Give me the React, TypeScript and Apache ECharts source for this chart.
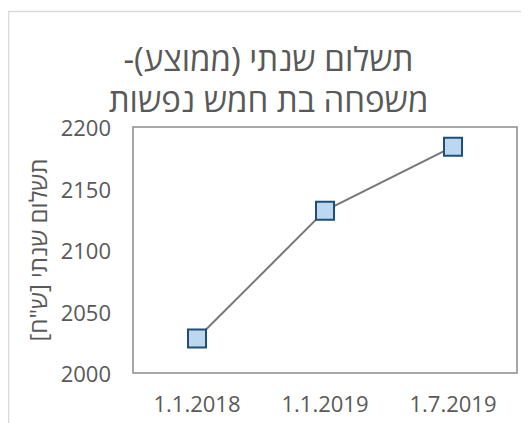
import React, { useEffect, useRef } from "react";
import * as echarts from "echarts";

const categories = ["1.1.2018", "1.1.2019", "1.7.2019"];
const payments = [2028, 2132, 2184];
const titleLines = ["תשלום שנתי (ממוצע)-\u200F", "משפחה בת חמש נפשות\u200F"];
const yAxisName = "תשלום שנתי [ש\"ח]\u200F";
const yMin = 2000;
const yMax = 2200;
const yInterval = 50;

export default function App() {
  const ref = useRef<HTMLDivElement>(null);
  useEffect(() => {
    if (!ref.current) return;
    const chart = echarts.init(ref.current, undefined, { renderer: "svg" });
    chart.setOption({
      animation: false,
      backgroundColor: "#ffffff",
      graphic: [
        {
          type: "rect",
          shape: { x: 0.5, y: 3.5, width: 700, height: 600 },
          style: { fill: "none", stroke: "#D9D9D9", lineWidth: 1.5 },
          silent: true,
        },
      ],
      title: {
        text: titleLines.join("\n"),
        left: "center",
        top: 25,
        textStyle: {
          fontFamily: "Open Sans",
          fontSize: 33,
          fontWeight: "normal",
          color: "#595959",
          lineHeight: 41,
        },
      },
      grid: {
        left: 125,
        top: 119,
        width: 384,
        height: 246,
        show: true,
        borderColor: "#8C8C8C",
        borderWidth: 1.5,
        backgroundColor: "transparent",
      },
      xAxis: {
        type: "category",
        data: categories,
        boundaryGap: true,
        axisLine: { show: false },
        axisTick: { show: false },
        axisLabel: {
          margin: 19,
          fontFamily: "Open Sans",
          fontSize: 22,
          color: "#595959",
        },
        splitLine: { show: false },
      },
      yAxis: {
        type: "value",
        min: yMin,
        max: yMax,
        interval: yInterval,
        name: yAxisName,
        nameLocation: "middle",
        nameGap: 54,
        nameTextStyle: {
          fontFamily: "Open Sans",
          fontSize: 24,
          color: "#595959",
        },
        axisLine: { show: false },
        axisTick: { show: false },
        axisLabel: {
          margin: 22,
          fontFamily: "Open Sans",
          fontSize: 22,
          color: "#595959",
          formatter: (v: number) => String(v),
        },
        splitLine: { show: false },
      },
      series: [
        {
          type: "line",
          data: payments,
          symbol: "rect",
          symbolSize: 18,
          lineStyle: { color: "#767676", width: 2 },
          itemStyle: { color: "#BDD7EE", borderColor: "#1F4E79", borderWidth: 2 },
        },
      ],
    });
    return () => chart.dispose();
  }, []);
  return <div ref={ref} style={{ width: 521, height: 415 }} />;
}
